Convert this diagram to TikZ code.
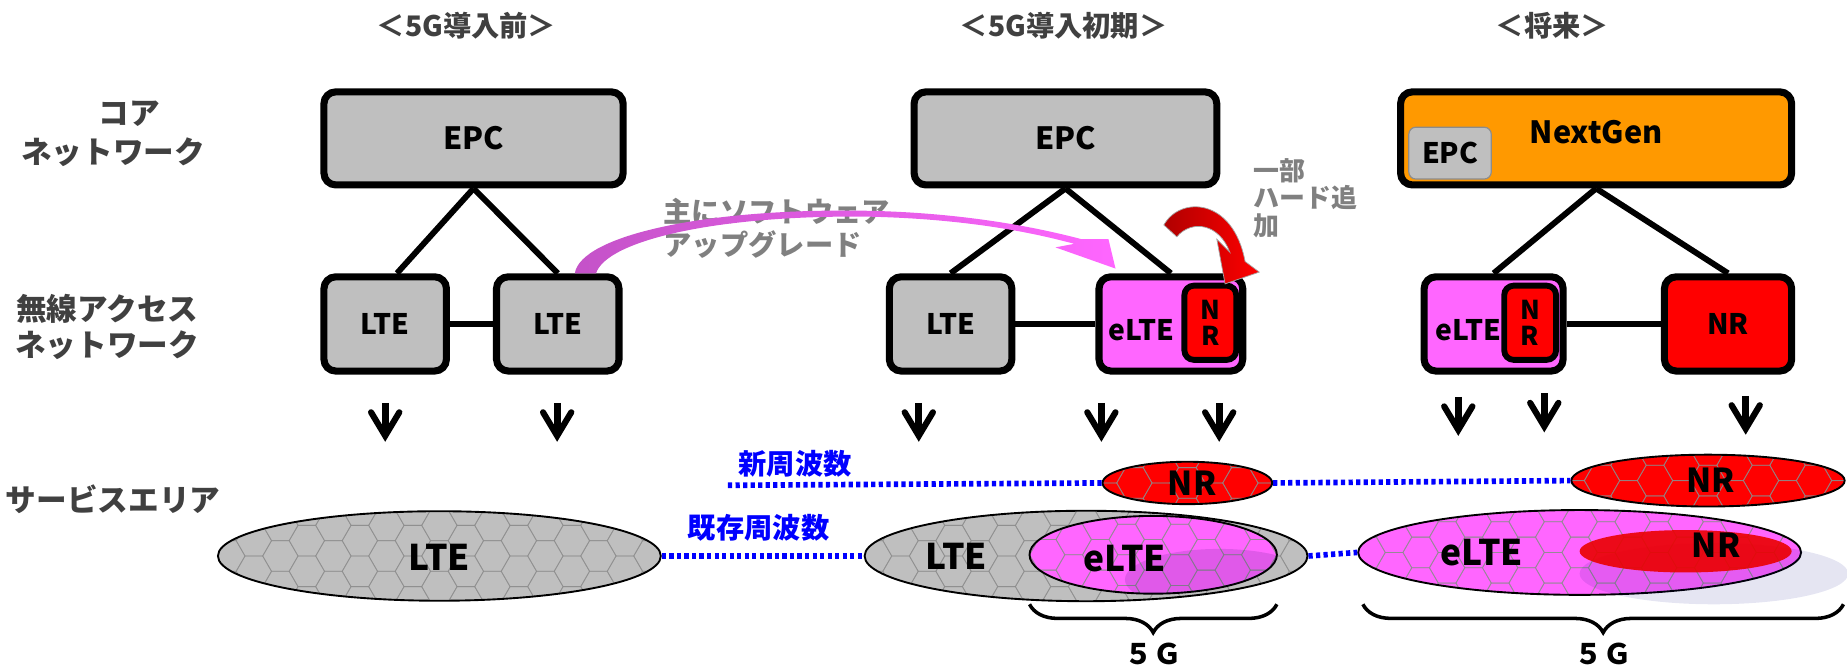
\documentclass[tikz,border=0pt]{standalone}
\usepackage{fontspec}
\setmainfont{Noto Sans CJK JP}
\usetikzlibrary{shapes.geometric,arrows.meta,decorations.pathreplacing}
\definecolor{boxgray}{HTML}{BFBFBF}
\definecolor{pinkc}{HTML}{FF66FF}
\definecolor{pinkd}{HTML}{C452C8}
\definecolor{redc}{HTML}{FF0000}
\definecolor{redd}{HTML}{B00000}
\definecolor{orangec}{HTML}{FF9900}
\definecolor{txtgray}{HTML}{404040}
\definecolor{lblgray}{HTML}{808080}
\definecolor{bluec}{HTML}{0000FF}
\tikzset{
  box/.style={draw=black, line width=3pt, rounded corners=5pt, inner sep=0pt, font=\bfseries\fontsize{12}{14}\selectfont},
  inbox/.style={draw=black, line width=2.5pt, rounded corners=4pt, fill=redc, inner sep=0pt, align=center, minimum width=22pt, minimum height=31.5pt, font=\bfseries\fontsize{11}{11}\selectfont},
  conn/.style={line width=2.5pt},
  dnshaft/.style={line width=3pt},
  dnbarb/.style={line width=2.6pt, line cap=round, line join=miter},
  ellb/.style={draw=black, line width=0.8pt, ellipse, inner sep=0pt},
  hexl/.style={draw=black!45, line width=0.35pt, opacity=0.7},
  bdot/.style={draw=bluec, line width=2.4pt, dash pattern=on 1.8pt off 1.4pt},
  brc/.style={line width=1.5pt, decorate, decoration={brace, mirror, amplitude=12pt}},
  ttl/.style={text=txtgray, font=\bfseries\fontsize{12}{14}\selectfont},
  side/.style={text=txtgray, font=\bfseries\fontsize{13}{15}\selectfont},
  note/.style={text=lblgray, align=left, inner sep=0pt},
  eltxt/.style={font=\bfseries\fontsize{15}{17}\selectfont},
  freq/.style={text=bluec, font=\bfseries\fontsize{12}{14}\selectfont},
}
\newcommand{\hexarea}[4]{%
  \begin{scope}
    \clip (#1,#2) ellipse [x radius=#3, y radius=#4];
    \foreach \i in {-9,...,9}{%
      \foreach \j in {-2,...,2}{%
        \pgfmathsetmacro{\hx}{#1+22.5*\i}%
        \pgfmathsetmacro{\hy}{#2+26*\j+13*mod(abs(\i),2)}%
        \draw[hexl] (\hx,\hy) +(0:7.5pt) -- +(60:7.5pt) -- +(120:7.5pt) -- +(180:7.5pt) -- +(240:7.5pt) -- +(300:7.5pt) -- cycle;
      }%
    }%
  \end{scope}%
}
\newcommand{\areaell}[6]{%
  \fill[#6] (#2,#3) ellipse [x radius=#4pt, y radius=#5pt];
  \hexarea{#2}{#3}{#4pt}{#5pt}
  \node[ellb, minimum width={2*#4pt}, minimum height={2*#5pt}] (#1) at (#2,#3) {};
}
\begin{document}
\begin{tikzpicture}[x=0.5pt, y=-0.5pt]
\useasboundingbox (0,0) rectangle (1568,566);

% titles
\node[ttl] (t1) at (396,22) {＜5G導入前＞};
\node[ttl] (t2) at (903,22) {＜5G導入初期＞};
\node[ttl] (t3) at (1318,22) {＜将来＞};

% side labels
\node[side] (s1) at (110,97) {コア};
\node[side] (s2) at (96,129) {ネットワーク};
\node[side] (s3) at (91,262) {無線アクセス};
\node[side] (s4) at (91,293) {ネットワーク};
\node[side] (s5) at (96,424) {サービスエリア};

% column 1
\node[box, fill=boxgray, minimum width=127pt, minimum height=39.5pt, font=\bfseries\fontsize{13}{15}\selectfont] (epc1) at (402,117.5) {EPC};
\node[box, fill=boxgray, minimum width=52pt, minimum height=40pt] (lte1) at (327,275) {LTE};
\node[box, fill=boxgray, minimum width=52pt, minimum height=40pt] (lte2) at (473.5,275) {LTE};
\draw[conn] (epc1.south) -- ([xshift=5pt]lte1.north);
\draw[conn] (epc1.south) -- (lte2.north);
\draw[conn] (lte1.east) -- (lte2.west);

% column 2
\node[box, fill=boxgray, minimum width=128.5pt, minimum height=39.5pt, font=\bfseries\fontsize{13}{15}\selectfont] (epc2) at (904.5,117.5) {EPC};
\node[box, fill=boxgray, minimum width=52pt, minimum height=40pt] (lte3) at (807,275) {LTE};
\node[box, fill=pinkc, minimum width=61pt, minimum height=40pt] (elte1) at (994,275) {};
\node[anchor=west, inner sep=0pt, font=\bfseries\fontsize{12}{14}\selectfont] (elte1t) at (941,280) {eLTE};
\node[inbox] (nri1) at (1027.5,274) {N\\R};
\draw[conn] (epc2.south) -- (lte3.north);
\draw[conn] (epc2.south) -- (elte1.north);
\draw[conn] (lte3.east) -- (elte1.west);

% column 3
\node[box, fill=orangec, minimum width=166pt, minimum height=39.5pt] (ng) at (1355,117.5) {};
\node[font=\bfseries\fontsize{13}{15}\selectfont] (ngt) at (1355,112) {NextGen};
\node[draw=black!45, line width=0.5pt, fill=boxgray, rounded corners=3pt, minimum width=35pt, minimum height=22pt, inner sep=0pt, font=\bfseries\fontsize{12}{14}\selectfont] (epc3) at (1231,130) {EPC};
\node[box, fill=pinkc, minimum width=59pt, minimum height=40pt] (elte2) at (1268,275) {};
\node[anchor=west, inner sep=0pt, font=\bfseries\fontsize{12}{14}\selectfont] (elte2t) at (1218,280) {eLTE};
\node[inbox] (nri2) at (1299,274) {N\\R};
\node[box, fill=redc, minimum width=54pt, minimum height=40pt] (nr2) at (1467,275) {NR};
\draw[conn] (ng.south) -- (elte2.north);
\draw[conn] (ng.south) -- (nr2.north);
\draw[conn] (elte2.east) -- (nr2.west);

% software upgrade arrow
\node[note, anchor=north west, font=\bfseries\fontsize{12}{14}\selectfont] (sw) at (563,168) {主にソフトウェア\\アップグレード};
\shade[left color=pinkd, right color=pinkc] (488,232) .. controls (493,200) and (600,176) .. (740,179) .. controls (820,181) and (880,193) .. (918,203) -- (941,203) -- (947,228) -- (896,210) -- (912,207) .. controls (875,197) and (820,186) .. (740,184) .. controls (610,182) and (515,204) .. (506,232) -- cycle;

% hardware add arrow
\node[note, anchor=north west, font=\bfseries\fontsize{11}{11.75}\selectfont] (hw) at (1064,134) {一部\\ハード追\\加};
\shade[left color=redd, right color=redc, draw=black!35, line width=0.3pt] (988,191) .. controls (1002,166) and (1047,168) .. (1057,222) -- (1069,231) -- (1040,241) -- (1033,203) -- (1044,214) .. controls (1035,190) and (1012,186) .. (999,201) -- cycle;

% down arrows
\foreach \ax/\ay [count=\k] in {327/342, 473/342, 780/342, 935/342, 1035/342, 1238/337, 1311/334, 1482/336}{
  \coordinate (da\k) at (\ax,\ay);
  \coordinate (dv\k) at (\ax,\ay+28);
  \coordinate (dl\k) at (\ax-12,\ay+8);
  \coordinate (dr\k) at (\ax+12,\ay+8);
  \draw[dnshaft] (da\k) -- (dv\k);
  \draw[dnbarb] (dl\k) -- (dv\k) -- (dr\k);
}

% service areas
\areaell{elA}{373}{472}{94}{19}{boxgray}
\node[eltxt] (elAt) at (373,473) {LTE};

\areaell{elB}{922}{472}{94}{19.2}{boxgray}
\node[eltxt] (elBt) at (812,472) {LTE};
\areaell{elC}{979}{471}{52.5}{16.5}{pinkc}
\begin{scope}
  \clip (979,471) ellipse [x radius=52.5pt, y radius=16.5pt];
  \fill[black!70!blue, opacity=0.12] (1035,492) ellipse [x radius=40pt, y radius=13pt];
\end{scope}
\node[eltxt] (elCt) at (955,474) {eLTE};

\areaell{elD}{1008}{410}{36}{9}{redc}
\node[font=\bfseries\fontsize{14}{16}\selectfont] (elDt) at (1012,410) {NR};

\areaell{elE}{1341}{469}{94}{18}{pinkc}
\node[eltxt] (elEt) at (1258,469) {eLTE};
\fill[black!50!blue, opacity=0.1] (1455,487) ellipse [x radius=57pt, y radius=13pt];
\node[ellipse, fill=red!92!black, fill opacity=0.9, inner sep=0pt, minimum width=90pt, minimum height=18pt] (elG) at (1431,468) {};
\node[font=\bfseries\fontsize{14}{16}\selectfont] (elGt) at (1457,463) {NR};

\areaell{elF}{1450}{408}{58}{11}{redc}
\node[font=\bfseries\fontsize{14}{16}\selectfont] (elFt) at (1452,408) {NR};

% frequency lines
\coordinate (bd0) at (618,412);
\draw[bdot] (bd0) -- (elD.west);
\draw[bdot] (elD.east) -- (elF.west);
\draw[bdot] (elA.east) -- (elB.west);
\draw[bdot] (elB.east) -- (elE.west);
\node[freq] (f1) at (675,394) {新周波数};
\node[freq] (f2) at (644,448) {既存周波数};

% braces
\coordinate (b1a) at (874,513);
\coordinate (b1b) at (1084,513);
\coordinate (b2a) at (1157,513);
\coordinate (b2b) at (1565,513);
\draw[brc] (b1a) -- (b1b);
\draw[brc] (b2a) -- (b2b);
\node[font=\bfseries\fontsize{12}{14}\selectfont] (g1) at (979,555) {５Ｇ};
\node[font=\bfseries\fontsize{12}{14}\selectfont] (g2) at (1361,555) {５Ｇ};
\end{tikzpicture}
\end{document}
